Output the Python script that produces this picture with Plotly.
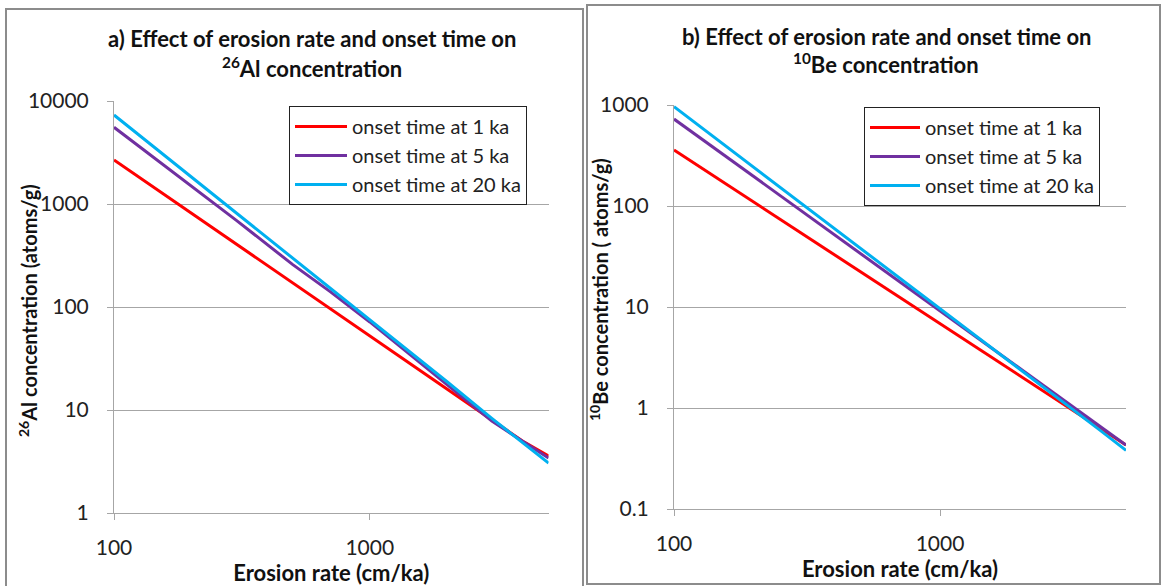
import plotly.graph_objects as go

W, H = 1163, 586

# Erosion rate (cm/ka)
erosion = [100, 150, 200, 300, 500, 700, 1000, 1500, 2000, 3000, 4000, 5000]

# a) 26Al concentration (atoms/g)
al_1ka = [2675, 1336, 817, 408, 171, 96, 52, 26, 15.9, 7.95, 4.9, 3.57]
al_5ka = [5560, 2580, 1500, 697, 258, 141, 71.6, 31.5, 17.5, 7.8, 4.9, 3.42]
al_20ka = [7310, 3266, 1841, 822, 298, 152, 75, 33.4, 18.9, 8.3, 4.76, 3.05]

# b) 10Be concentration (atoms/g)
be_1ka = [358, 178, 109, 54.2, 22.5, 12.6, 6.84, 3.4, 2.08, 1.035, 0.63, 0.43]
be_5ka = [726, 336, 194, 90, 34, 17.9, 9.1, 4.2, 2.43, 1.12, 0.65, 0.43]
be_20ka = [962, 428, 240, 107, 38.5, 19.6, 9.6, 4.28, 2.4, 1.07, 0.60, 0.38]

names = ["onset time at 1 ka", "onset time at 5 ka", "onset time at 20 ka"]
colors = ["#FF0000", "#7030A0", "#00B0F0"]

FONT = "Lato"
GRID = "#A6A6A6"
TXT = "#222222"

fig = go.Figure()
for ys, nm, c in zip([al_1ka, al_5ka, al_20ka], names, colors):
    fig.add_trace(go.Scatter(x=erosion, y=ys, name=nm, mode="lines",
                             line=dict(color=c, width=3),
                             xaxis="x", yaxis="y", legend="legend"))
for ys, nm, c in zip([be_1ka, be_5ka, be_20ka], names, colors):
    fig.add_trace(go.Scatter(x=erosion, y=ys, name=nm, mode="lines",
                             line=dict(color=c, width=3),
                             xaxis="x2", yaxis="y2", legend="legend2"))

def px_x(p):
    return p / W

def px_y(p):
    return 1 - p / H

common_x = dict(type="log", showgrid=False, showline=True, linecolor=GRID, linewidth=1,
                ticks="outside", ticklen=6, tickcolor=GRID, tickvals=[100, 1000],
                ticktext=["100", "1000"], tickfont=dict(family=FONT, size=21, color=TXT),
                ticklabelstandoff=10, zeroline=False, automargin=False,
                title=dict(text="<b>Erosion rate (cm/ka)</b>",
                           font=dict(family=FONT, size=22, color="#111"), standoff=2))
common_y = dict(type="log", showgrid=True, gridcolor=GRID, gridwidth=1, showline=True,
                linecolor=GRID, linewidth=1, ticks="outside", ticklen=6, tickcolor=GRID,
                tickfont=dict(family=FONT, size=21, color=TXT), ticklabelstandoff=14,
                zeroline=False, automargin=False)

fig.update_layout(
    width=W, height=H,
    margin=dict(l=0, r=0, t=0, b=0, autoexpand=False),
    paper_bgcolor="white", plot_bgcolor="white",
    xaxis=dict(common_x, domain=[px_x(114), px_x(548.6)], range=[2, 3.699], anchor="y"),
    yaxis=dict(common_y, domain=[px_y(513), px_y(101)], range=[0, 4], anchor="x",
               tickvals=[1, 10, 100, 1000, 10000],
               ticktext=["1", "10", "100", "1000", "10000"]),
    xaxis2=dict(common_x, domain=[px_x(674), px_x(1126)], range=[2, 3.699], anchor="y2"),
    yaxis2=dict(common_y, domain=[px_y(509), px_y(105)], range=[-1, 3], anchor="x2",
                tickvals=[0.1, 1, 10, 100, 1000],
                ticktext=["0.1", "1", "10", "100", "1000"]),
    legend=dict(x=px_x(289), y=px_y(106), xanchor="left", yanchor="top",
                bgcolor="white", bordercolor="#222", borderwidth=1, itemwidth=52,
                font=dict(family=FONT, size=20, color=TXT)),
    legend2=dict(x=px_x(864), y=px_y(107), xanchor="left", yanchor="top",
                 bgcolor="white", bordercolor="#222", borderwidth=1, itemwidth=50,
                 font=dict(family=FONT, size=20, color=TXT)),
    showlegend=True,
)

# panel titles
title_font = dict(family=FONT, size=22, color="#111")
ann = [
    ("<b>a) Effect of erosion rate and onset time on</b>", 312, 39),
    ("<b><sup>26</sup>Al concentration</b>", 312, 68),
    ("<b>b) Effect of erosion rate and onset time on</b>", 886, 36),
    ("<b><sup>10</sup>Be concentration</b>", 886, 64),
]
for t, x, y in ann:
    fig.add_annotation(text=t, x=px_x(x), y=px_y(y), xref="paper", yref="paper",
                       xanchor="center", yanchor="middle", showarrow=False, font=title_font)

# y-axis titles
yt_font = dict(family=FONT, size=20, color="#111")
for t, x, y in [("<b><sup>26</sup>Al concentration (atoms/g)</b>", 28, 311),
                ("<b><sup>10</sup>Be concentration ( atoms/g)</b>", 599, 290)]:
    fig.add_annotation(text=t, x=px_x(x), y=px_y(y), xref="paper", yref="paper",
                       xanchor="center", yanchor="middle", textangle=-90,
                       showarrow=False, font=yt_font)

# panel borders
fig.add_shape(type="rect", xref="paper", yref="paper", x0=px_x(6), x1=px_x(583),
              y0=px_y(592), y1=px_y(9), line=dict(color="#8C8C8C", width=2))
fig.add_shape(type="rect", xref="paper", yref="paper", x0=px_x(587), x1=px_x(1160),
              y0=px_y(584), y1=px_y(5), line=dict(color="#8C8C8C", width=2))

fig.write_html("out.html")
